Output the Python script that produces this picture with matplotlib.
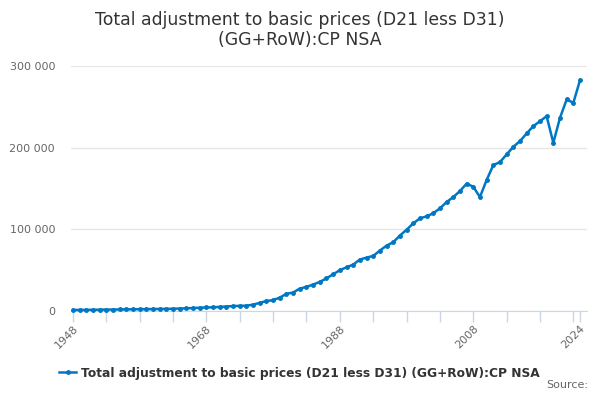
import matplotlib.pyplot as plt
from matplotlib.ticker import FuncFormatter, FixedLocator

years = list(range(1948, 2025))
values = [
    1200, 1300, 1400, 1500, 1600, 1700, 1800, 1900, 2000, 2100,
    2200, 2300, 2400, 2500, 2600, 2800, 3000, 3300, 3600, 4000,
    4300, 4600, 5000, 5500, 6000, 6300, 6500, 7800, 10000, 12300,
    13200, 16500, 21000, 22600, 27500, 29500, 32400, 35600, 40000, 45000,
    50000, 53500, 56800, 63000, 65400, 67400, 74000, 80000, 84200, 92300,
    99500, 107300, 113400, 115900, 119600, 125700, 133400, 139500, 146800, 155900,
    152200, 139500, 160300, 178600, 182300, 191700, 201000, 208000, 217400, 226300,
    232400, 238500, 206000, 236500, 259000, 254900, 282500,
]
label_years = [1948, 1968, 1988, 2008, 2024]
title = "Total adjustment to basic prices (D21 less D31)\n(GG+RoW):CP NSA"
series_name = "Total adjustment to basic prices (D21 less D31) (GG+RoW):CP NSA"

plt.rcParams['font.family'] = ['DejaVu Sans']
fig = plt.figure(figsize=(6, 4), dpi=100)
ax = fig.add_axes([71/600, 89/400, 516/600, 245/400])

line_col = '#0077c4'
ax.plot(years, values, color=line_col, lw=1.8, marker='o', ms=2.5,
        label=series_name, zorder=3, clip_on=False)

ax.set_xlim(1947.7, 2025.05)
ax.set_ylim(0, 300000)
ax.set_yticks([0, 100000, 200000, 300000])
ax.yaxis.set_major_formatter(FuncFormatter(lambda v, p: f"{int(v):,}".replace(",", " ")))
ax.grid(axis='y', color='#e6e6e6', lw=1)
ax.set_axisbelow(True)

ax.xaxis.set_major_locator(FixedLocator(label_years))
ax.xaxis.set_minor_locator(FixedLocator(list(range(1948, 2025, 5))))
ax.tick_params(axis='x', which='both', length=8, color='#ccd6eb', width=1)
ax.tick_params(axis='x', which='major', labelsize=8, labelcolor='#666666',
               labelrotation=45, pad=1)
ax.tick_params(axis='y', length=0, labelsize=8, labelcolor='#666666', pad=11.5)
for lab in ax.get_xticklabels():
    lab.set_ha('right')
    lab.set_rotation_mode('anchor')

for s in ['top', 'right', 'left']:
    ax.spines[s].set_visible(False)
ax.spines['bottom'].set_color('#ccd6eb')

fig.text(0.5, 0.972, title, ha='center', va='top', fontsize=12.4,
         color='#333333', linespacing=1.15)

leg = fig.legend(loc='center', bbox_to_anchor=(0.499, 0.067), frameon=False,
                 handlelength=1.4, handletextpad=0.4,
                 prop={'size': 8.8, 'weight': 'bold'})
for t in leg.get_texts():
    t.set_color('#333333')

fig.text(0.98, 0.0375, "Source:", ha='right', va='center', fontsize=8,
         color='#666666')

fig.savefig('out.png', dpi=100)
